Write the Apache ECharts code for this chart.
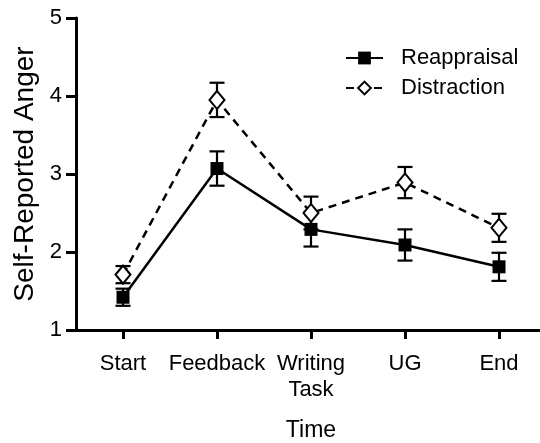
<!DOCTYPE html>
<html>
<head>
<meta charset="utf-8">
<script src="https://cdn.jsdelivr.net/npm/echarts@6/dist/echarts.min.js"></script>
<style>html,body{margin:0;padding:0;background:#fff}#c{width:540px;height:443px}</style>
</head>
<body>
<div id="c"></div>
<script>
var categories = ['Start', 'Feedback', 'Writing\nTask', 'UG', 'End'];
var reappraisalMean = [1.42, 3.07, 2.29, 2.09, 1.81];
var reappraisalSE   = [0.11, 0.22, 0.22, 0.20, 0.18];
var distractionMean = [1.71, 3.95, 2.50, 2.89, 2.31];
var distractionSE   = [0.11, 0.22, 0.21, 0.20, 0.18];
var yTicks = [1, 2, 3, 4, 5];

var FONT = 'Liberation Sans, Arial, Helvetica, sans-serif';

function errData(mean, se) {
  return mean.map(function (m, i) { return [i, m - se[i], m + se[i]]; });
}
function errRender(params, api) {
  var x = api.value(0);
  var lo = api.coord([x, api.value(1)]);
  var hi = api.coord([x, api.value(2)]);
  var hw = 7.5;
  var st = { stroke: '#000', lineWidth: 2.2 };
  return {
    type: 'group',
    children: [
      { type: 'line', shape: { x1: lo[0], y1: lo[1], x2: hi[0], y2: hi[1] }, style: st },
      { type: 'line', shape: { x1: lo[0] - hw, y1: lo[1], x2: lo[0] + hw, y2: lo[1] }, style: st },
      { type: 'line', shape: { x1: hi[0] - hw, y1: hi[1], x2: hi[0] + hw, y2: hi[1] }, style: st }
    ]
  };
}

var chart = echarts.init(document.getElementById('c'), null, { renderer: 'canvas' });
chart.setOption({
  animation: false,
  backgroundColor: '#fff',
  textStyle: { fontFamily: FONT, color: '#000' },
  grid: { left: 76, right: -6, top: 18, bottom: 113, outerBoundsMode: 'none' },
  legend: {
    orient: 'vertical',
    left: 340,
    top: 42,
    itemWidth: 37,
    itemHeight: 16,
    itemGap: 8,
    textStyle: { fontFamily: FONT, fontSize: 22, color: '#000', padding: [0, 0, 0, 13] },
    data: ['Reappraisal', 'Distraction']
  },
  xAxis: {
    type: 'category',
    data: categories,
    boundaryGap: true,
    name: 'Time',
    nameLocation: 'middle',
    nameGap: 89,
    nameTextStyle: { fontFamily: FONT, fontSize: 23, color: '#000', verticalAlign: 'top' },
    axisLine: { show: true, lineStyle: { color: '#000', width: 3 } },
    axisTick: { show: true, alignWithLabel: true, length: 9, lineStyle: { color: '#000', width: 3 } },
    axisLabel: { fontFamily: FONT, fontSize: 22, color: '#000', margin: 21, lineHeight: 26, interval: 0 },
    splitLine: { show: false }
  },
  yAxis: {
    type: 'value',
    min: 1,
    max: 5,
    interval: 1,
    name: 'Self-Reported Anger',
    nameLocation: 'middle',
    nameGap: 33,
    nameTextStyle: { fontFamily: FONT, fontSize: 28, color: '#000' },
    axisLine: { show: true, lineStyle: { color: '#000', width: 3 } },
    axisTick: { show: true, length: 10, lineStyle: { color: '#000', width: 3 } },
    axisLabel: { fontFamily: FONT, fontSize: 22, color: '#000', margin: 14,
      formatter: function (v) { return yTicks.indexOf(v) >= 0 ? String(v) : ''; } },
    splitLine: { show: false }
  },
  series: [
    {
      type: 'custom', name: 'errR', renderItem: errRender, data: errData(reappraisalMean, reappraisalSE),
      encode: { x: 0, y: [1, 2] }, z: 1, silent: true
    },
    {
      type: 'custom', name: 'errD', renderItem: errRender, data: errData(distractionMean, distractionSE),
      encode: { x: 0, y: [1, 2] }, z: 1, silent: true
    },
    {
      name: 'Reappraisal', type: 'line', data: reappraisalMean, z: 3,
      symbol: 'rect', symbolSize: 13,
      lineStyle: { color: '#000', width: 2.5, type: 'solid' },
      itemStyle: { color: '#000', borderColor: '#000', borderWidth: 0 }
    },
    {
      name: 'Distraction', type: 'line', data: distractionMean, z: 4,
      symbol: 'diamond', symbolSize: [15, 18],
      lineStyle: { color: '#000', width: 2.5, type: [8, 6] },
      itemStyle: { color: '#fff', borderColor: '#000', borderWidth: 2 }
    }
  ]
});
</script>
</body>
</html>
